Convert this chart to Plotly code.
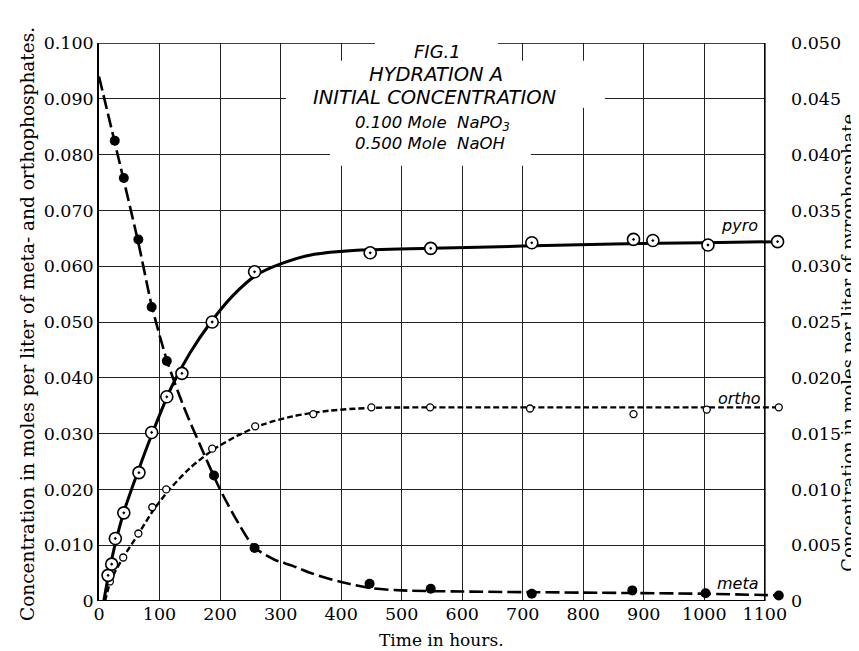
import plotly.graph_objects as go

# ---------------- data ----------------
# measured points
meta_t = [26, 41, 65, 87, 112, 190, 257, 447, 548, 715, 881, 1002, 1123]
meta_c = [0.0825, 0.0758, 0.0648, 0.0527, 0.0430, 0.0225, 0.0095, 0.0031, 0.0022, 0.0013, 0.0019, 0.0014, 0.0010]

ortho_t = [18, 40, 65, 88, 111, 187, 258, 354, 450, 547, 712, 883, 1004, 1123]
ortho_c = [0.0035, 0.0078, 0.0121, 0.0168, 0.0200, 0.0273, 0.0313, 0.0335, 0.0347, 0.0347, 0.0345, 0.0335, 0.0343, 0.0347]

# pyrophosphate is read on the right-hand axis
pyro_t = [15, 21, 27, 41, 66, 87, 112, 137, 187, 257, 448, 548, 715, 883, 915, 1006, 1121]
pyro_c = [0.0023, 0.0033, 0.0056, 0.0079, 0.0115, 0.0151, 0.0183, 0.0204, 0.0250, 0.0295, 0.0312, 0.0316, 0.0321, 0.0324, 0.0323, 0.0319, 0.0322]

# hand-drawn smooth curves
meta_curve_t = [0, 26, 65, 87, 112, 140, 170, 200, 230, 257, 290, 320, 350, 400, 450, 500, 600, 800, 1000, 1123]
meta_curve_c = [0.0940, 0.0822, 0.0642, 0.0530, 0.0432, 0.0348, 0.0272, 0.0200, 0.0140, 0.0096, 0.0074, 0.0063,
                0.0050, 0.0034, 0.0023, 0.0019, 0.0017, 0.0015, 0.0013, 0.0010]

ortho_curve_t = [10, 20, 40, 65, 90, 115, 150, 190, 230, 270, 320, 380, 450, 600, 800, 1000, 1123]
ortho_curve_c = [0.0, 0.0038, 0.0078, 0.0120, 0.0163, 0.0198, 0.0238, 0.0272, 0.0297, 0.0316, 0.0331, 0.0341,
                 0.0346, 0.0347, 0.0347, 0.0347, 0.0347]

pyro_curve_t = [8, 20, 40, 65, 90, 120, 150, 185, 220, 260, 300, 350, 420, 550, 700, 850, 1000, 1121]
pyro_curve_c = [0.0, 0.0035, 0.0078, 0.0117, 0.0153, 0.0192, 0.0222, 0.0250, 0.0273, 0.0292, 0.0302, 0.0310,
                0.0314, 0.0316, 0.0318, 0.0320, 0.0321, 0.0322]

x_ticks = [0, 100, 200, 300, 400, 500, 600, 700, 800, 900, 1000, 1100]
y_left_ticks = [0, 0.01, 0.02, 0.03, 0.04, 0.05, 0.06, 0.07, 0.08, 0.09, 0.10]
y_left_text = ["0", "0.010", "0.020", "0.030", "0.040", "0.050", "0.060", "0.070", "0.080", "0.090", "0.100"]
y_right_ticks = [0, 0.005, 0.010, 0.015, 0.020, 0.025, 0.030, 0.035, 0.040, 0.045, 0.050]
y_right_text = ["0", "0.005", "0.010", "0.015", "0.020", "0.025", "0.030", "0.035", "0.040", "0.045", "0.050"]

title_lines = ["<i>FIG.1</i>", "<i>HYDRATION A</i>", "<i>INITIAL CONCENTRATION</i>",
               "<i>0.100 Mole  NaPO<sub>3</sub></i>", "<i>0.500 Mole  NaOH</i>"]

SERIF = "DejaVu Serif"
SANS = "DejaVu Sans"

X_MAX = 1100      # end of the drawn frame
X_VIEW = 1125     # view extends a little so the last readings (beyond 1100) show

# layout geometry (pixels)
L, T, B = 91, 35, 58
PX_PER_X = 666 / 1100
PLOT_W = X_VIEW * PX_PER_X
R = 859 - L - PLOT_W
PLOT_H = 651 - T - B


def xd(px):
    return (px - L) / PX_PER_X


def yp(py):
    return 1 - (py - T) / PLOT_H


fig = go.Figure()

# curves
fig.add_trace(go.Scatter(x=meta_curve_t, y=meta_curve_c, mode="lines", yaxis="y",
                         line=dict(color="black", width=2.6, dash="14px,5px", shape="spline", smoothing=0.8),
                         hoverinfo="skip"))
fig.add_trace(go.Scatter(x=ortho_curve_t, y=ortho_curve_c, mode="lines", yaxis="y",
                         line=dict(color="black", width=2.4, dash="6px,3px", shape="spline", smoothing=0.8),
                         hoverinfo="skip"))
fig.add_trace(go.Scatter(x=pyro_curve_t, y=pyro_curve_c, mode="lines", yaxis="y2",
                         line=dict(color="black", width=3, shape="spline", smoothing=0.8),
                         hoverinfo="skip"))

# points
fig.add_trace(go.Scatter(x=meta_t, y=meta_c, mode="markers", yaxis="y",
                         marker=dict(symbol="circle", size=10, color="black"), cliponaxis=False))
fig.add_trace(go.Scatter(x=ortho_t, y=ortho_c, mode="markers", yaxis="y",
                         marker=dict(symbol="circle", size=7, color="white",
                                     line=dict(color="black", width=1.3)), cliponaxis=False))
fig.add_trace(go.Scatter(x=pyro_t, y=pyro_c, mode="markers", yaxis="y2",
                         marker=dict(symbol="circle-dot", size=12, color="white",
                                     line=dict(color="black", width=1.6)), cliponaxis=False))

shapes = [
    # hide the grid beyond the frame
    dict(type="rect", xref="x", yref="y", x0=X_MAX + 0.5, x1=X_VIEW + 5, y0=-0.002, y1=0.102,
         fillcolor="white", line=dict(width=0), layer="between"),
    # frame
    dict(type="line", xref="x", yref="y", x0=0, x1=X_MAX, y0=0, y1=0,
         line=dict(color="black", width=2), layer="between"),
    dict(type="line", xref="x", yref="y", x0=0, x1=X_MAX, y0=0.1, y1=0.1,
         line=dict(color="black", width=1.5), layer="between"),
    dict(type="line", xref="x", yref="y", x0=X_MAX, x1=X_MAX, y0=0, y1=0.1,
         line=dict(color="black", width=1.5), layer="between"),
]
# white box behind title text
box_style = dict(type="rect", xref="x", yref="y", fillcolor="white", line=dict(width=0), layer="above")
shapes += [
    dict(x0=xd(367), x1=xd(490), y0=0.0968, y1=0.1015, **box_style),
    dict(x0=xd(278), x1=xd(597), y0=0.0884, y1=0.0968, **box_style),
    dict(x0=xd(322), x1=xd(523), y0=0.0780, y1=0.0884, **box_style),
]

annotations = []
title_y = [43, 66, 89, 115, 135]
title_size = [18, 19.5, 19.5, 16.5, 16.5]
title_x = [430, 428, 427, 425, 422]
for txt, py, fs, px in zip(title_lines, title_y, title_size, title_x):
    annotations.append(dict(text=txt, xref="x", yref="paper", x=xd(px), y=yp(py),
                            xanchor="center", yanchor="middle", showarrow=False, borderpad=0,
                            font=dict(family=SANS, size=fs, color="black")))

# series labels
for txt, px, py in [("pyro", 732, 218), ("ortho", 732, 390), ("meta", 730, 575)]:
    annotations.append(dict(text="<i>" + txt + "</i>", xref="x", yref="paper", x=xd(px), y=yp(py),
                            xanchor="center", yanchor="middle", showarrow=False,
                            font=dict(family=SANS, size=16, color="black")))

# axis titles
annotations.append(dict(text="Concentration in moles per liter of meta- and orthophosphates.",
                        xref="paper", yref="paper", x=(19 - L) / PLOT_W, y=yp(316),
                        xanchor="center", yanchor="middle", textangle=-90, showarrow=False,
                        font=dict(family=SERIF, size=18.5, color="black")))
annotations.append(dict(text="Concentration in moles per liter of pyrophosphate.",
                        xref="paper", yref="paper", x=(840 - L) / PLOT_W, y=yp(332),
                        xanchor="center", yanchor="middle", textangle=-90, showarrow=False,
                        borderpad=0, font=dict(family=SERIF, size=18, color="black")))
annotations.append(dict(text="Time in hours.", xref="paper", yref="paper",
                        x=(434 - L) / PLOT_W, y=yp(632),
                        xanchor="center", yanchor="middle", showarrow=False, borderpad=0,
                        font=dict(family=SERIF, size=17, color="black")))

fig.update_layout(
    width=859, height=651,
    margin=dict(l=L, r=R, t=T, b=B, pad=0),
    paper_bgcolor="white", plot_bgcolor="white",
    showlegend=False,
    shapes=shapes,
    annotations=annotations,
    xaxis=dict(range=[0, X_VIEW], tickvals=x_ticks, ticks="", showgrid=True,
               gridcolor="#222", gridwidth=1, showline=False, zeroline=False,
               tickfont=dict(family=SERIF, size=17.5, color="black")),
    yaxis=dict(range=[0, 0.1], tickvals=y_left_ticks, ticktext=y_left_text, ticks="",
               showgrid=True, gridcolor="#222", gridwidth=1, showline=True, linecolor="black",
               linewidth=1.5, mirror=False, zeroline=False,
               tickfont=dict(family=SERIF, size=17.5, color="black")),
    yaxis2=dict(range=[0, 0.05], tickvals=y_right_ticks, ticktext=y_right_text, overlaying="y",
                side="right", ticks="", showgrid=False, zeroline=False, showline=False,
                ticklabelstandoff=10,
                tickfont=dict(family=SERIF, size=17.5, color="black")),
)

fig.write_html("out.html")
